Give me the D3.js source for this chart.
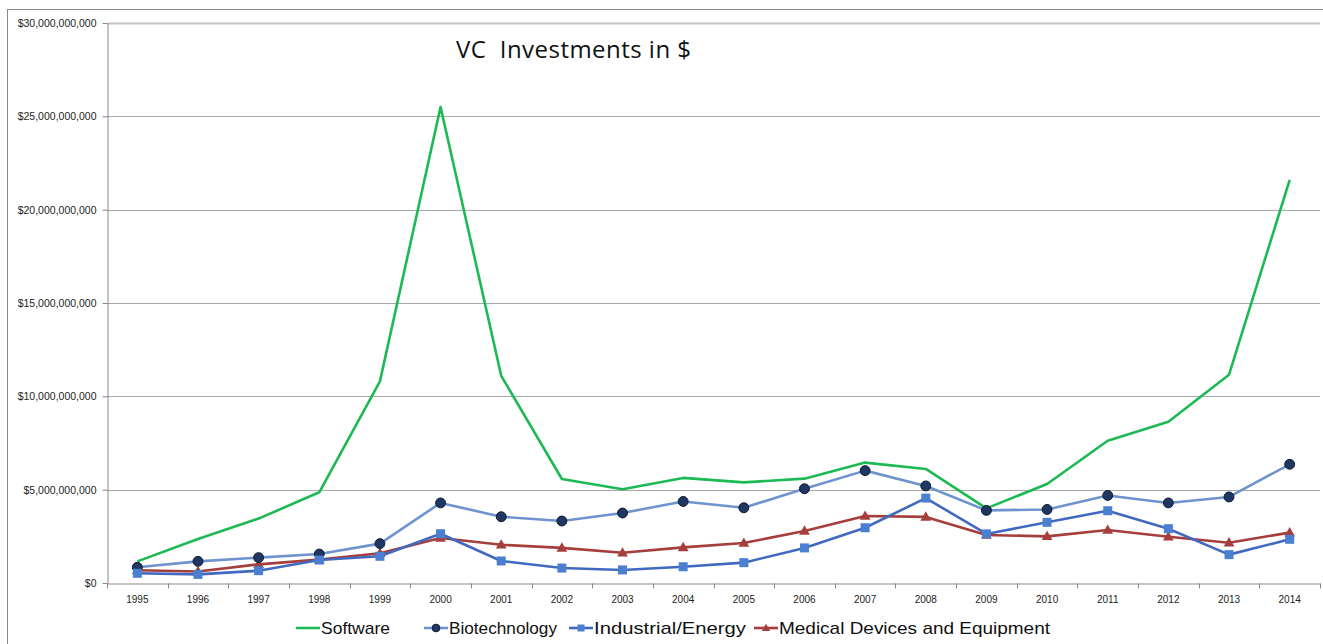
<!DOCTYPE html>
<html>
<head>
<meta charset="utf-8">
<script src="https://cdn.jsdelivr.net/npm/d3@7"></script>
<style>
  body { margin: 0; background: #fff; }
  svg { display: block; font-family: "Liberation Sans", Arial, sans-serif; }
</style>
</head>
<body>
<div id="chart"></div>
<script>
// data (dollars)
const years = ['1995','1996','1997','1998','1999','2000','2001','2002','2003','2004',
               '2005','2006','2007','2008','2009','2010','2011','2012','2013','2014'];
const software = [1.16e9, 2.36e9, 3.45e9, 4.86e9, 10.8e9, 25.5e9, 11.1e9, 5.57e9, 5.02e9, 5.63e9,
                  5.39e9, 5.59e9, 6.45e9, 6.11e9, 4.0e9, 5.30e9, 7.62e9, 8.64e9, 11.16e9, 21.6e9];
const biotech = [0.84e9, 1.16e9, 1.36e9, 1.55e9, 2.11e9, 4.29e9, 3.55e9, 3.32e9, 3.75e9, 4.37e9,
                 4.03e9, 5.05e9, 6.02e9, 5.2e9, 3.89e9, 3.94e9, 4.69e9, 4.29e9, 4.61e9, 6.36e9];
const industrial = [0.52e9, 0.46e9, 0.66e9, 1.23e9, 1.43e9, 2.64e9, 1.18e9, 0.80e9, 0.70e9, 0.87e9,
                    1.09e9, 1.88e9, 2.96e9, 4.55e9, 2.63e9, 3.25e9, 3.87e9, 2.91e9, 1.52e9, 2.34e9];
const medical = [0.68e9, 0.62e9, 1.0e9, 1.25e9, 1.59e9, 2.41e9, 2.05e9, 1.88e9, 1.62e9, 1.91e9,
                 2.14e9, 2.79e9, 3.59e9, 3.54e9, 2.57e9, 2.50e9, 2.84e9, 2.48e9, 2.16e9, 2.70e9];
const yTicks = [0, 5e9, 10e9, 15e9, 20e9, 25e9, 30e9];

const series = [
  { name: 'Software', values: software, line: '#1DB954', marker: null },
  { name: 'Biotechnology', values: biotech, line: '#6E93CF', marker: 'circle', fill: '#1F3763' },
  { name: 'Industrial/Energy', values: industrial, line: '#4169C0', marker: 'square', fill: '#4A80CF' },
  { name: 'Medical Devices and Equipment', values: medical, line: '#A63E3C', marker: 'triangle', fill: '#A63E3C' }
];

const W = 1323, H = 644;
const margin = { left: 107, right: 3, top: 23, bottom: 61 };

const svg = d3.select('#chart').append('svg')
  .attr('width', W).attr('height', H);

// outer frame
svg.append('rect')
  .attr('x', 7.5).attr('y', 9.5)
  .attr('width', W + 20).attr('height', H + 20)
  .attr('fill', 'none').attr('stroke', '#888').attr('stroke-width', 1);

const x = d3.scaleBand().domain(years).range([margin.left, W - margin.right]);
const y = d3.scaleLinear().domain([0, 30e9]).range([H - margin.bottom, margin.top]);

// gridlines
svg.append('g')
  .selectAll('line').data(yTicks.slice(1)).join('line')
  .attr('x1', margin.left).attr('x2', W - margin.right)
  .attr('y1', d => Math.round(y(d)) + 0.5).attr('y2', d => Math.round(y(d)) + 0.5)
  .attr('stroke', d => d === 30e9 ? '#c4c4c4' : '#a8a8a8')
  .attr('stroke-width', d => d === 30e9 ? 2 : 1);

// y axis
const fmt = d => '$' + d3.format(',')(d);
const yAxis = svg.append('g')
  .attr('transform', `translate(${margin.left + 0.5},0)`)
  .call(d3.axisLeft(y).tickValues(yTicks).tickFormat(fmt).tickSize(5).tickSizeOuter(0));
yAxis.select('.domain').attr('stroke', '#888');
yAxis.selectAll('.tick line').attr('stroke', '#888');
yAxis.selectAll('.tick text')
  .attr('x', -11).attr('font-size', 10.5).attr('fill', '#222')
  .attr('font-family', '"Liberation Sans", Arial, sans-serif');

// x axis
const xAxis = svg.append('g')
  .attr('transform', `translate(0,${Math.round(y(0)) + 0.5})`)
  .call(d3.axisBottom(x).tickSize(0).tickSizeOuter(0));
xAxis.select('.domain').attr('stroke', '#888');
xAxis.selectAll('.tick text')
  .attr('y', 12).attr('font-size', 10).attr('fill', '#222')
  .attr('font-family', '"Liberation Sans", Arial, sans-serif');
// tick marks between categories
xAxis.append('g').selectAll('line')
  .data(years.concat(['end']))
  .join('line')
  .attr('x1', (d, i) => Math.round(margin.left + i * x.step()) + 0.5)
  .attr('x2', (d, i) => Math.round(margin.left + i * x.step()) + 0.5)
  .attr('y1', 0).attr('y2', 5)
  .attr('stroke', '#888');

const cx = d => x(d) + x.bandwidth() / 2;

function drawMarker(g, type, fill, size) {
  if (type === 'circle') {
    g.append('circle').attr('r', size * 0.55)
      .attr('fill', fill).attr('stroke', '#0e1a30').attr('stroke-width', 1);
  } else if (type === 'square') {
    g.append('rect').attr('x', -size / 2).attr('y', -size / 2)
      .attr('width', size).attr('height', size)
      .attr('fill', fill);
  } else if (type === 'triangle') {
    g.append('path')
      .attr('d', `M0,${-size * 0.62}L${size * 0.6},${size * 0.42}L${-size * 0.6},${size * 0.42}Z`)
      .attr('fill', fill);
  }
}

const line = d3.line().x((d, i) => cx(years[i])).y(d => y(d));

// draw from back to front
const order = [series[0], series[3], series[1], series[2]];
order.forEach(s => {
  const g = svg.append('g');
  g.append('path')
    .attr('d', line(s.values))
    .attr('fill', 'none')
    .attr('stroke', s.line)
    .attr('stroke-width', 2.6)
    .attr('stroke-linejoin', 'round');
  if (s.marker) {
    g.selectAll('g.m').data(s.values).join('g')
      .attr('class', 'm')
      .attr('transform', (d, i) => `translate(${cx(years[i])},${y(d)})`)
      .each(function () { drawMarker(d3.select(this), s.marker, s.fill, 9); });
  }
});

// title
svg.append('text')
  .attr('x', 456).attr('y', 58)
  .attr('font-size', 24).attr('fill', '#111')
  .attr('font-family', '"Open Sans", "Liberation Sans", sans-serif')
  .style('white-space', 'pre')
  .attr('textLength', 235)
  .text('VC  Investments in $');

// legend
const legendX = [296, 424, 569, 754];
const legendW = [94, 133, 177, 296];
const lg = svg.append('g');
series.forEach((s, i) => {
  const g = lg.append('g').attr('transform', `translate(${legendX[i]},628)`);
  g.append('line').attr('x1', 0).attr('x2', 24).attr('y1', 0).attr('y2', 0)
    .attr('stroke', s.line).attr('stroke-width', 2.6);
  if (s.marker) {
    const m = g.append('g').attr('transform', 'translate(12,0)');
    drawMarker(m, s.marker, s.fill, 7);
  }
  g.append('text')
    .attr('x', 25).attr('y', 6)
    .attr('font-size', 17).attr('fill', '#111')
    .attr('textLength', legendW[i] - 25)
    .attr('lengthAdjust', 'spacingAndGlyphs')
    .text(s.name);
});
</script>
</body>
</html>
